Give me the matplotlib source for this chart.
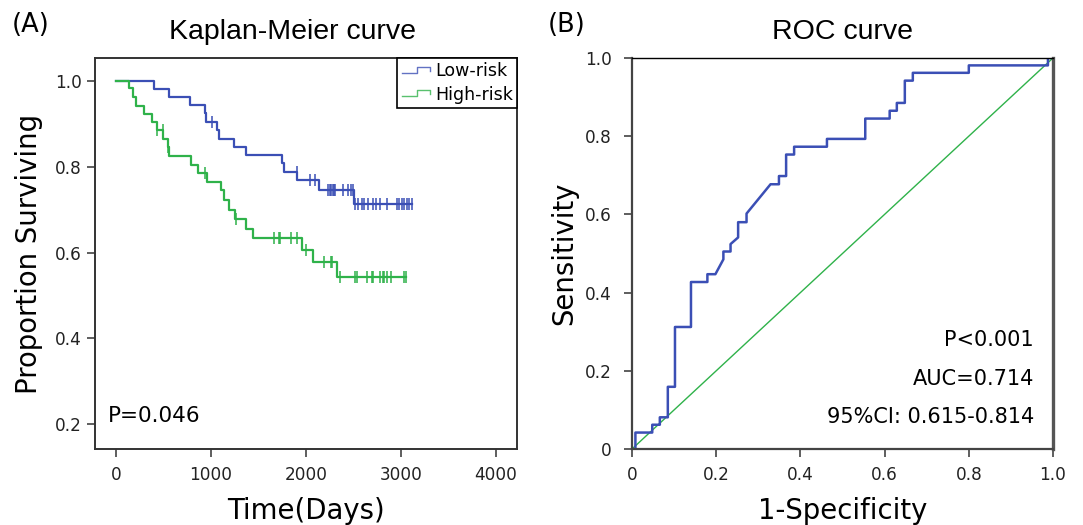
"""Kaplan-Meier + ROC panels, redrawn as out.png."""

import numpy as np
import matplotlib

matplotlib.use("Agg")
import matplotlib.pyplot as plt
from matplotlib.legend_handler import HandlerBase
from matplotlib.lines import Line2D

plt.rcParams["font.family"] = ["DejaVu Sans"]
TITLE_FONT = ["Liberation Sans", "DejaVu Sans"]

BLUE = "#3b4fb5"
GREEN = "#2fb24a"

# --- Kaplan-Meier data ---
low_event_t = [403, 561, 779, 940, 950, 1066, 1080, 1245, 1365, 1747, 1765, 1909, 2133, 2509]
low_event_s = [0.982, 0.963, 0.944, 0.925, 0.905, 0.886, 0.866, 0.847, 0.827, 0.808,
               0.788, 0.769, 0.747, 0.713]
low_censor_t = [1007, 1902, 2042, 2095, 2235, 2250, 2265, 2280, 2295, 2305, 2390, 2440,
                2470, 2495, 2516, 2551, 2586, 2614, 2656, 2702, 2737, 2779, 2856, 2961,
                2979, 3007, 3032, 3060, 3087, 3112]

high_event_t = [140, 175, 210, 298, 375, 428, 498, 544, 561, 786, 866, 954, 1102, 1137,
                1189, 1253, 1368, 1446, 1958, 2070, 2323]
high_event_s = [0.983, 0.962, 0.942, 0.923, 0.904, 0.886, 0.866, 0.847, 0.825, 0.805,
                0.786, 0.765, 0.745, 0.722, 0.700, 0.679, 0.656, 0.634, 0.607, 0.578, 0.544]
high_censor_t = [435, 491, 551, 940, 1260, 1663, 1719, 1730, 1839, 1909, 1997, 2189, 2263,
                 2277, 2358, 2516, 2540, 2645, 2691, 2702, 2779, 2807, 2824, 2849, 2892,
                 3032, 3053]

km_xticks = [0, 1000, 2000, 3000, 4000]
km_yticks = [0.2, 0.4, 0.6, 0.8, 1.0]

# --- ROC data (curve vertices) ---
roc_fpr = [0.008, 0.008, 0.048, 0.048, 0.066, 0.066, 0.085, 0.085, 0.102, 0.102, 0.140,
           0.140, 0.179, 0.179, 0.198, 0.217, 0.217, 0.234, 0.234, 0.252, 0.252, 0.272,
           0.272, 0.329, 0.349, 0.349, 0.366, 0.366, 0.385, 0.385, 0.463, 0.463, 0.554,
           0.554, 0.612, 0.612, 0.629, 0.629, 0.648, 0.648, 0.667, 0.667, 0.800, 0.800,
           0.988, 0.988, 1.0]
roc_tpr = [0.0, 0.042, 0.042, 0.062, 0.062, 0.081, 0.081, 0.159, 0.159, 0.312, 0.312,
           0.427, 0.427, 0.447, 0.447, 0.485, 0.505, 0.505, 0.524, 0.541, 0.580, 0.580,
           0.602, 0.677, 0.677, 0.698, 0.698, 0.753, 0.753, 0.773, 0.773, 0.793, 0.793,
           0.845, 0.845, 0.865, 0.865, 0.885, 0.885, 0.942, 0.942, 0.962, 0.962, 0.981,
           0.981, 1.0, 1.0]
roc_ticks = [0, 0.2, 0.4, 0.6, 0.8, 1.0]
roc_ticklabels = ["0", "0.2", "0.4", "0.6", "0.8", "1.0"]


class StepHandler(HandlerBase):
    def create_artists(self, legend, orig_handle, xdescent, ydescent, width, height,
                       fontsize, trans):
        x = np.array([0.0, 0.55, 0.55, 1.0, 1.0]) * width - xdescent
        y = np.array([0.25, 0.25, 0.8, 0.8, 0.45]) * height - ydescent
        line = Line2D(x, y, color=orig_handle.get_color(), lw=1.0, alpha=0.8,
                      transform=trans)
        return [line]


def km_curve(ax, ev_t, ev_s, cens_t, color, label):
    t = np.concatenate([[0], ev_t, [max(cens_t)]])
    s = np.concatenate([[1.0], ev_s, [ev_s[-1]]])
    line, = ax.step(t, s, where="post", color=color, lw=1.6, label=label)
    idx = np.searchsorted(t, cens_t, side="right") - 1
    ax.plot(cens_t, s[idx], ls="none", marker="|", ms=8, mew=1.1, color=color)
    return line


fig = plt.figure(figsize=(10.83, 5.25), dpi=100)
ax1 = fig.add_axes([0.0877, 0.1448, 0.3897, 0.7448])
ax2 = fig.add_axes([0.5836, 0.1448, 0.3887, 0.7448])

# panel A
h_low = km_curve(ax1, low_event_t, low_event_s, low_censor_t, BLUE, "Low-risk")
h_high = km_curve(ax1, high_event_t, high_event_s, high_censor_t, GREEN, "High-risk")
ax1.set_xlim(-221, 4221)
ax1.set_ylim(0.142, 1.054)
ax1.set_xticks(km_xticks)
ax1.set_yticks(km_yticks)
ax1.set_yticklabels([f"{v:.1f}" for v in km_yticks])
ax1.set_title("Kaplan-Meier curve", fontsize=20.5, pad=14, x=0.467, family=TITLE_FONT)
ax1.set_xlabel("Time(Days)", fontsize=19.8)
ax1.set_ylabel("Proportion Surviving", fontsize=19.8)
ax1.xaxis.set_label_coords(0.5, -0.123)
ax1.yaxis.set_label_coords(-0.123, 0.5)
ax1.text(0.031, 0.084, "P=0.046", fontsize=15.5, transform=ax1.transAxes, va="center")
leg = ax1.legend(handles=[h_low, h_high], loc="upper right", bbox_to_anchor=(1, 1),
                 borderaxespad=0, fontsize=12.5, handler_map={Line2D: StepHandler()},
                 fancybox=False, framealpha=1, edgecolor="black", handlelength=1.6,
                 handletextpad=0.3, borderpad=0.25, labelspacing=0.3)
leg.get_frame().set_linewidth(1.2)
for sp in ax1.spines.values():
    sp.set_color("#333333")
    sp.set_linewidth(1.4)
ax1.tick_params(axis="y", pad=4)

# panel B
ax2.plot([0, 1], [0, 1], color=GREEN, lw=1.0)
ax2.plot(roc_fpr, roc_tpr, color=BLUE, lw=1.8)
ax2.set_xlim(0, 1)
ax2.set_ylim(0, 1)
ax2.set_xticks(roc_ticks)
ax2.set_xticklabels(roc_ticklabels)
ax2.set_yticks(roc_ticks)
ax2.set_yticklabels(roc_ticklabels)
ax2.set_title("ROC curve", fontsize=20.5, pad=14, family=TITLE_FONT)
ax2.set_xlabel("1-Specificity", fontsize=19.8)
ax2.set_ylabel("Sensitivity", fontsize=19.8)
ax2.xaxis.set_label_coords(0.5, -0.123)
ax2.yaxis.set_label_coords(-0.128, 0.5)
for txt, yy in (("P<0.001", 0.279), ("AUC=0.714", 0.179), ("95%CI: 0.615-0.814", 0.082)):
    ax2.text(0.955, yy, txt, fontsize=15, ha="right", va="center", transform=ax2.transAxes)
ax2.spines["left"].set_color("#444444")
ax2.spines["left"].set_linewidth(1.6)
ax2.spines["bottom"].set_color("#444444")
ax2.spines["bottom"].set_linewidth(1.6)
ax2.spines["right"].set_color("#555555")
ax2.spines["right"].set_linewidth(2.4)
ax2.spines["top"].set_color("black")
ax2.spines["top"].set_linewidth(1.0)
ax2.tick_params(axis="y", pad=9)

for ax in (ax1, ax2):
    ax.tick_params(direction="out", length=5.5, width=1.1, labelsize=12.2,
                   colors="#333333", labelcolor="#222222")
    ax.tick_params(axis="x", pad=7)

fig.text(0.011, 0.952, "(A)", fontsize=18.5, va="center")
fig.text(0.506, 0.952, "(B)", fontsize=18.5, va="center")

fig.savefig("out.png", dpi=100)
plt.close(fig)
